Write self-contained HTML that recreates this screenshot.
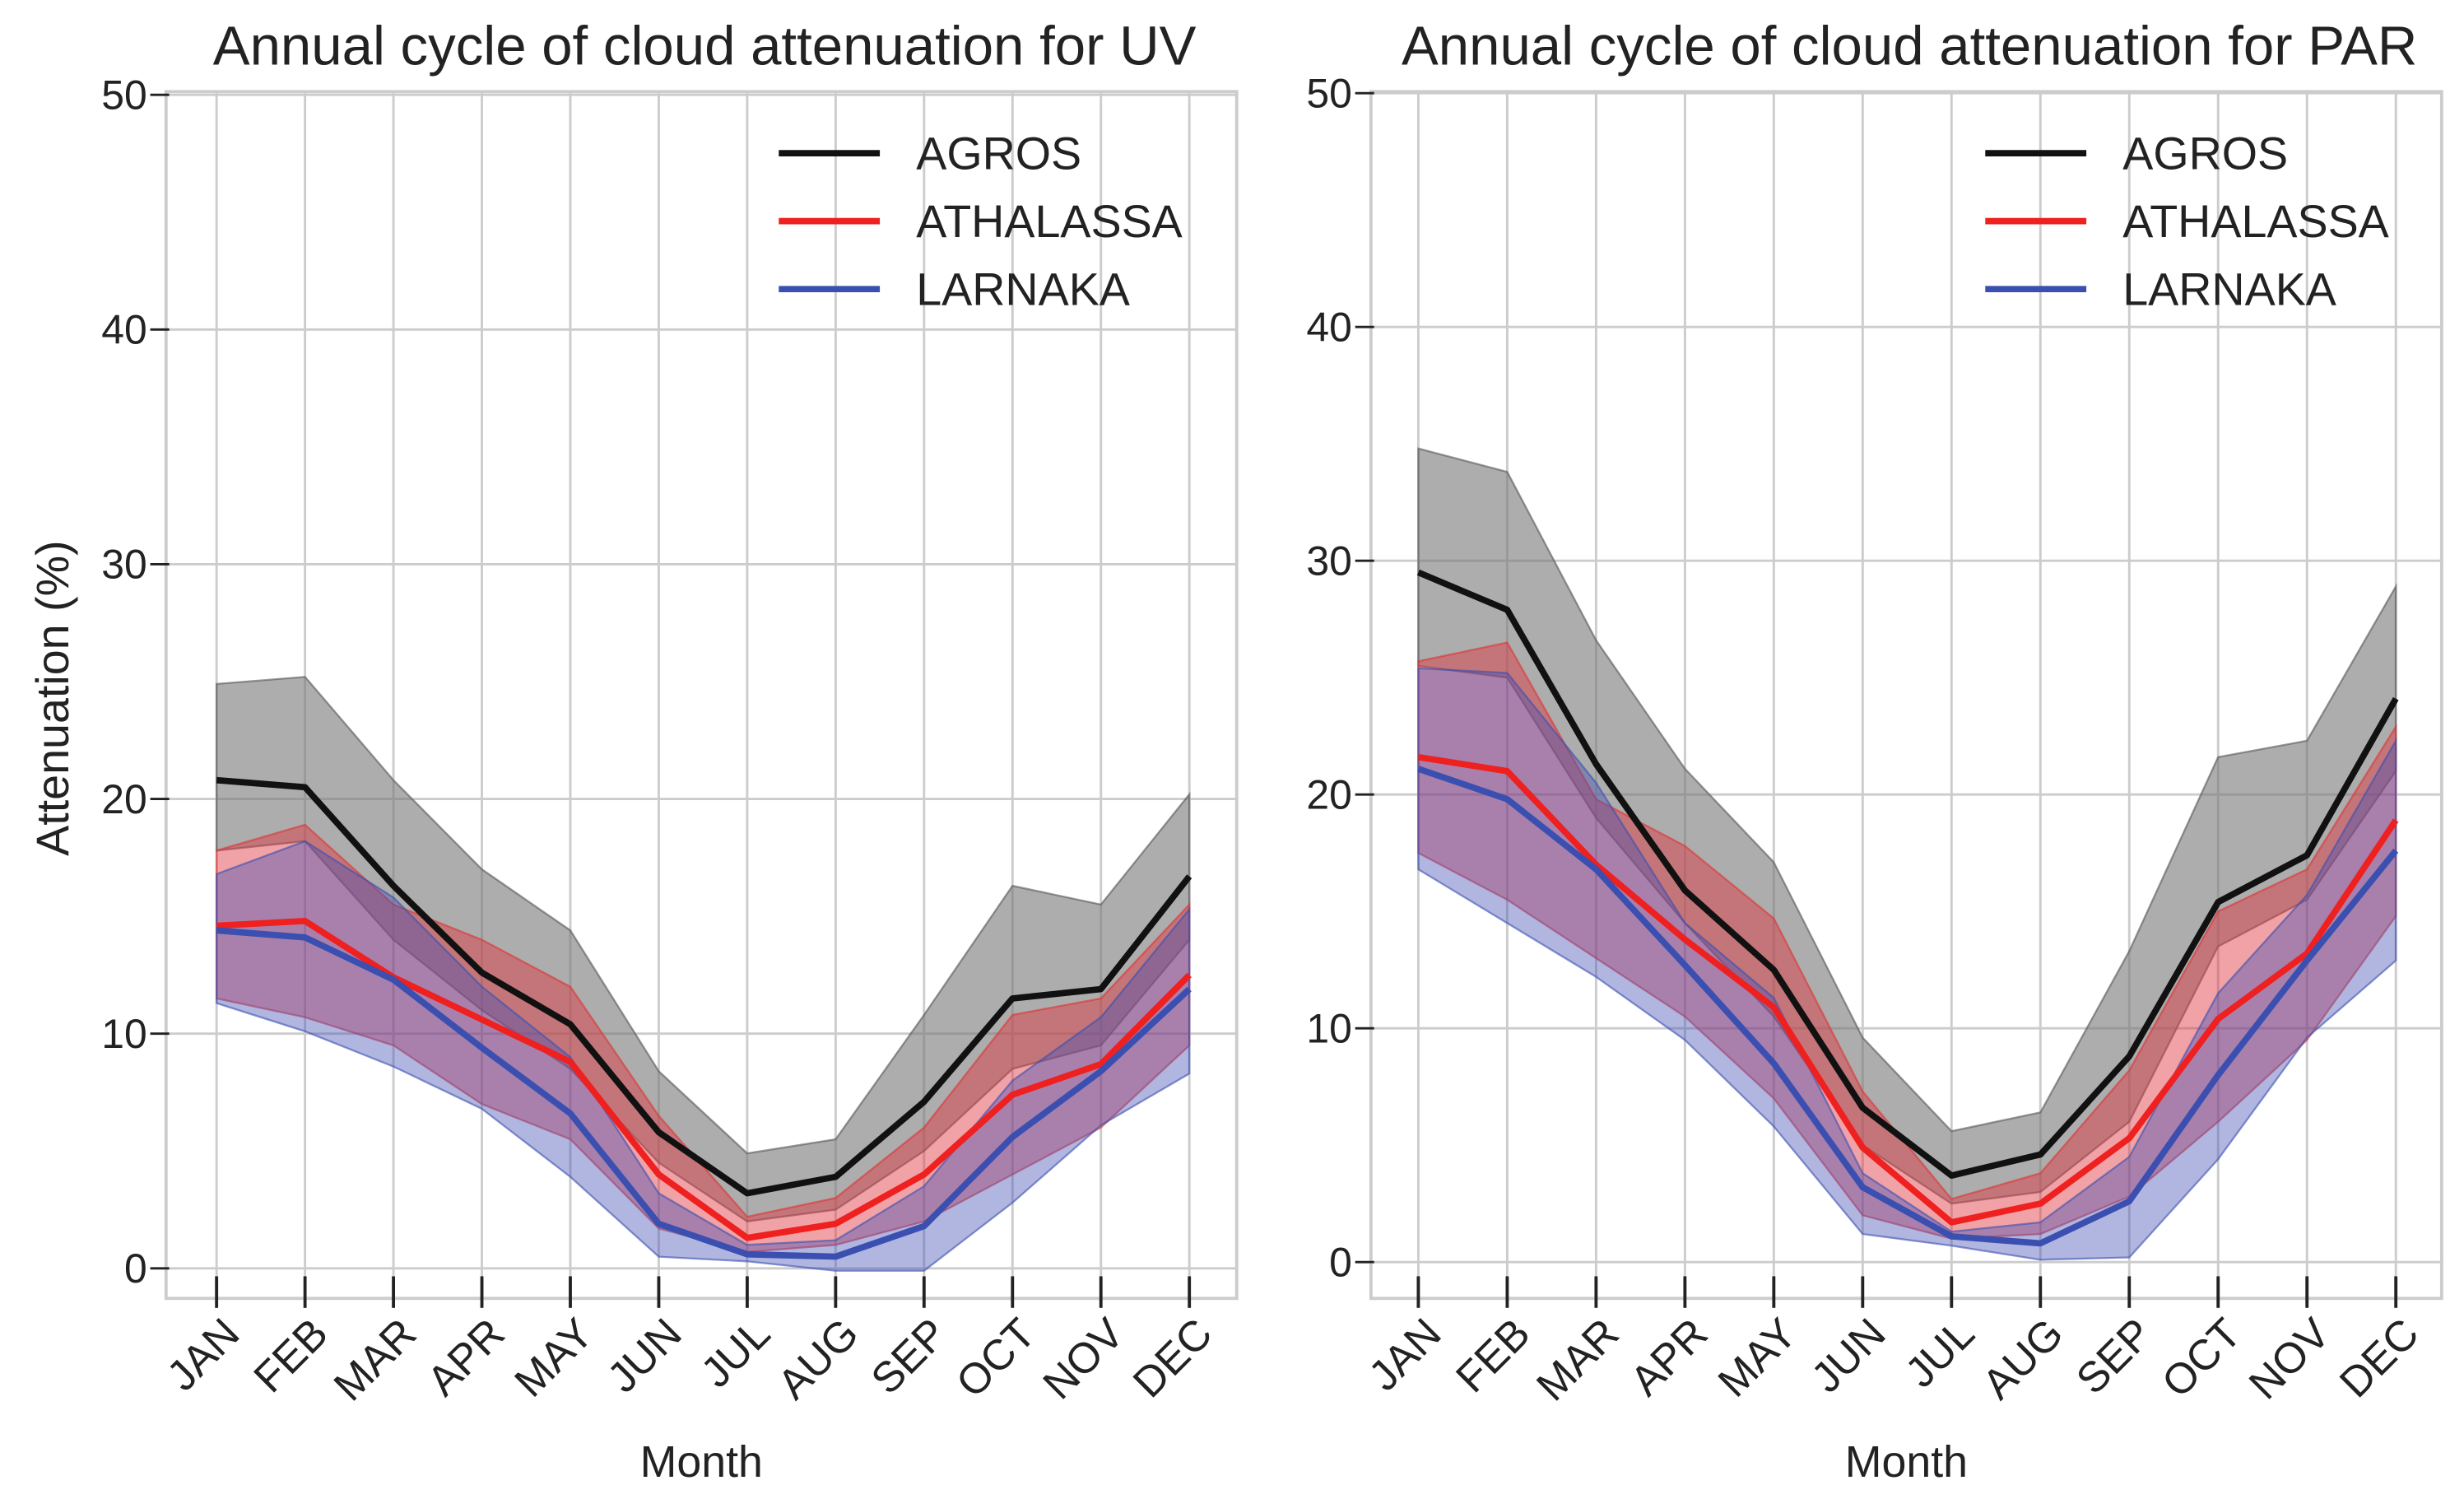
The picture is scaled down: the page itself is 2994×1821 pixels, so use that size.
<!DOCTYPE html>
<html><head><meta charset="utf-8"><style>
html,body{margin:0;padding:0;background:#fff;}
svg{display:block;}
text{font-family:"Liberation Sans",Arial,sans-serif;fill:#222;}
</style></head><body>
<svg id="chart" width="2994" height="1821" viewBox="0 0 1560 949" xmlns="http://www.w3.org/2000/svg">
</svg>
<script>
const months = ["JAN","FEB","MAR","APR","MAY","JUN","JUL","AUG","SEP","OCT","NOV","DEC"];
const yTicks = [0,10,20,30,40,50];
const seriesNames = ["AGROS","ATHALASSA","LARNAKA"];
// UV panel
const uvAgrosMean = [20.8,20.5,16.3,12.6,10.4,5.8,3.2,3.9,7.1,11.5,11.9,16.7];
const uvAgrosUp   = [24.9,25.2,20.8,17.0,14.4,8.4,4.9,5.5,10.8,16.3,15.5,20.2];
const uvAgrosLow  = [17.8,18.2,14.0,11.0,8.5,4.5,2.0,2.5,5.0,8.5,9.5,14.0];
const uvAthMean   = [14.6,14.8,12.4,10.6,8.8,4.0,1.3,1.9,4.0,7.4,8.7,12.5];
const uvAthUp     = [17.8,18.9,15.5,14.0,12.0,6.5,2.2,3.0,6.0,10.8,11.5,15.5];
const uvAthLow    = [11.5,10.7,9.5,7.0,5.5,1.7,0.7,1.0,2.0,4.0,6.0,9.5];
const uvLarMean   = [14.4,14.1,12.3,9.4,6.6,1.9,0.6,0.5,1.8,5.6,8.4,11.9];
const uvLarUp     = [16.8,18.2,15.8,12.0,9.0,3.2,1.0,1.2,3.5,8.0,10.7,15.3];
const uvLarLow    = [11.3,10.1,8.6,6.8,3.9,0.5,0.3,-0.1,-0.1,2.8,6.1,8.3];
// PAR panel
const parAgrosMean = [29.5,27.9,21.3,15.9,12.5,6.6,3.7,4.6,8.8,15.4,17.4,24.1];
const parAgrosUp   = [34.8,33.8,26.6,21.1,17.1,9.6,5.6,6.4,13.3,21.6,22.3,28.9];
const parAgrosLow  = [25.5,25.0,19.0,14.5,10.5,5.0,2.5,3.0,6.0,13.5,15.5,21.0];
const parAthMean   = [21.6,21.0,17.0,13.8,10.9,4.9,1.7,2.5,5.3,10.4,13.2,18.9];
const parAthUp     = [25.7,26.5,19.8,17.8,14.7,7.3,2.7,3.8,8.2,15.0,16.8,22.9];
const parAthLow    = [17.5,15.5,13.0,10.5,7.0,2.0,1.0,1.2,2.8,6.0,9.5,14.8];
const parLarMean   = [21.1,19.8,16.8,12.7,8.5,3.2,1.1,0.8,2.6,8.0,12.9,17.6];
const parLarUp     = [25.4,25.2,20.5,14.5,11.3,3.8,1.3,1.7,4.5,11.5,15.7,22.3];
const parLarLow    = [16.8,14.5,12.2,9.5,5.8,1.2,0.7,0.1,0.2,4.4,9.6,12.9];

const NS="http://www.w3.org/2000/svg";
const svg=document.getElementById('chart');
function mk(tag,attrs,parent){const e=document.createElementNS(NS,tag);for(const k in attrs)e.setAttribute(k,attrs[k]);(parent||svg).appendChild(e);return e;}

function panel(cfg){
  const g=mk('g',{});
  
  
  const x=i=>cfg.x0+i*(cfg.x1-cfg.x0)/11;
  const y=v=>cfg.y0-v*(cfg.y0-cfg.y50)/50;
  mk('rect',{x:cfg.bl,y:58,width:cfg.br-cfg.bl,height:764,fill:'#fff',stroke:'#cccccc','stroke-width':2},g);
  yTicks.forEach(t=>{
    const ln=mk('line',{x1:cfg.bl,x2:cfg.br,y1:y(t),y2:y(t),stroke:'#cccccc','stroke-width':1.5},g);
    
    
    mk('line',{x1:cfg.bl-10,x2:cfg.bl+2,y1:y(t),y2:y(t),stroke:'#222','stroke-width':1.5},g);
    const tx=mk('text',{x:cfg.bl-12,y:y(t)+9,'text-anchor':'end','font-size':26},g);
    tx.textContent=t;
    
    
  });
  months.forEach((m,i)=>{
    const ln=mk('line',{x1:x(i),x2:x(i),y1:58,y2:822,stroke:'#cccccc','stroke-width':1.5},g);
    
    
    mk('line',{x1:x(i),x2:x(i),y1:808,y2:828,stroke:'#222','stroke-width':2},g);
    const tx=mk('text',{x:0,y:0,'text-anchor':'end','font-size':27,transform:`translate(${x(i)+16},${846}) rotate(-45)`},g);
    tx.textContent=m;
    
    
  });
  const cols=[['#777777',0.6,'#555'],['#e0303a',0.45,'#d33'],['#4450b5',0.42,'#3a4fb0']];
  const lineCols=['#111111','#ee2020','#3a4fb0'];
  cfg.series.forEach((s,k)=>{
    let d='M'+s.up.map((v,i)=>x(i)+','+y(v)).join('L');
    for(let i=11;i>=0;i--) d+='L'+x(i)+','+y(s.low[i]);
    d+='Z';
    const p=mk('path',{d,fill:cols[k][0],'fill-opacity':cols[k][1],stroke:cols[k][2],'stroke-opacity':0.6,'stroke-width':1.2},g);
    
    
  });
  cfg.series.forEach((s,k)=>{
    const pl=mk('polyline',{points:s.mean.map((v,i)=>x(i)+','+y(v)).join(' '),fill:'none',stroke:lineCols[k],'stroke-width':4,'stroke-linejoin':'round'},g);
    
    
  });
  seriesNames.forEach((n,k)=>{
    const yy=97+k*43;
    const l=mk('line',{x1:cfg.lx,x2:cfg.lx+64,y1:yy,y2:yy,stroke:lineCols[k],'stroke-width':4},g);
    
    
    const t=mk('text',{x:cfg.lx+87,y:yy+10,'font-size':29},g);
    t.textContent=n;
    
    
  });
  const ti=mk('text',{x:(cfg.bl+cfg.br)/2+2,y:41,'text-anchor':'middle','font-size':35},g);
  ti.textContent=cfg.title;
  
  
  const xl=mk('text',{x:(cfg.bl+cfg.br)/2,y:935,'text-anchor':'middle','font-size':28},g);
  xl.textContent='Month';
  
  
}

panel({name:'uv-panel',title:'Annual cycle of cloud attenuation for UV',bl:105,br:783,x0:137,x1:753,y0:803,y50:60,lx:493,
  series:[{mean:uvAgrosMean,up:uvAgrosUp,low:uvAgrosLow},{mean:uvAthMean,up:uvAthUp,low:uvAthLow},{mean:uvLarMean,up:uvLarUp,low:uvLarLow}]});
panel({name:'par-panel',title:'Annual cycle of cloud attenuation for PAR',bl:868,br:1546,x0:898,x1:1517,y0:799,y50:59,lx:1257,
  series:[{mean:parAgrosMean,up:parAgrosUp,low:parAgrosLow},{mean:parAthMean,up:parAthUp,low:parAthLow},{mean:parLarMean,up:parLarUp,low:parLarLow}]});

const yl=mk('text',{x:0,y:0,'text-anchor':'middle','font-size':29,transform:'translate(43,442) rotate(-90)'});
yl.textContent='Attenuation (%)';


</script>
</body></html>
